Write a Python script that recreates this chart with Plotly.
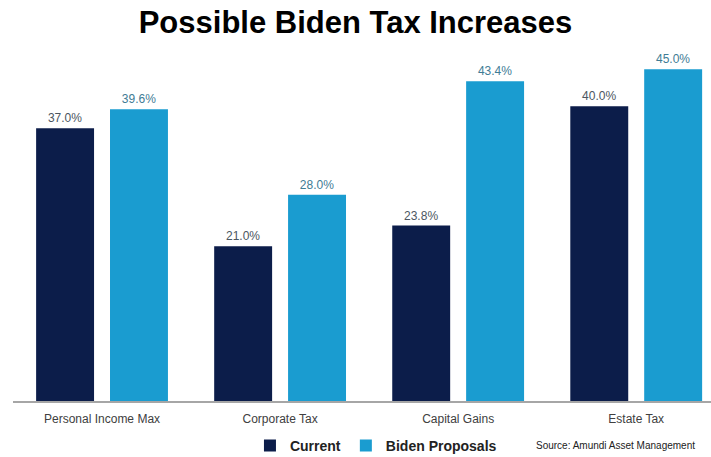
import plotly.graph_objects as go

categories = ["Personal Income Max", "Corporate Tax", "Capital Gains", "Estate Tax"]
current = [37.0, 21.0, 23.8, 40.0]
biden = [39.6, 28.0, 43.4, 45.0]

fig = go.Figure()
fig.add_trace(go.Bar(
    x=categories, y=current, name="<b>Current</b>",
    marker=dict(color="#0c1d4a", line=dict(width=0)),
    text=[f"{v:.1f}%" for v in current], textposition="outside",
    textfont=dict(family="Liberation Sans, Arial", size=12, color="#4b5661"),
    cliponaxis=False,
))
fig.add_trace(go.Bar(
    x=categories, y=biden, name="<b>Biden Proposals</b>",
    marker=dict(color="#1a9cd0", line=dict(width=0)),
    text=[f"{v:.1f}%" for v in biden], textposition="outside",
    textfont=dict(family="Liberation Sans, Arial", size=12, color="#3f7c95"),
    cliponaxis=False,
))

fig.update_layout(
    width=711, height=457,
    margin=dict(l=13, r=0, t=62, b=56, autoexpand=False),
    paper_bgcolor="white", plot_bgcolor="white",
    barmode="group", bargap=0.17, bargroupgap=0.216,
    title=dict(text="<b>Possible Biden Tax Increases</b>", x=0.5, xanchor="center",
               y=0.951, yanchor="middle",
               font=dict(family="Liberation Sans, Arial", size=31, color="black")),
    font=dict(family="Liberation Sans, Arial"),
    xaxis=dict(range=[-0.5, 3.42], showline=True, linecolor="#a6a6a6", linewidth=2,
               ticks="outside", ticklen=6, tickcolor="rgba(0,0,0,0)",
               tickfont=dict(size=12, color="#404040")),
    yaxis=dict(range=[0, 46], visible=False),
    legend=dict(orientation="h", x=0.52, xanchor="center", y=-0.085, yanchor="top",
                font=dict(size=14, color="#222222"),
                itemwidth=30, traceorder="normal"),
    annotations=[dict(text="Source: Amundi Asset Management", x=1.0, xanchor="right",
                      y=-0.11, yanchor="top", xshift=-14,
                      xref="paper", yref="paper", showarrow=False,
                      font=dict(size=10, color="#222222"))],
)
fig.write_html("out.html")
